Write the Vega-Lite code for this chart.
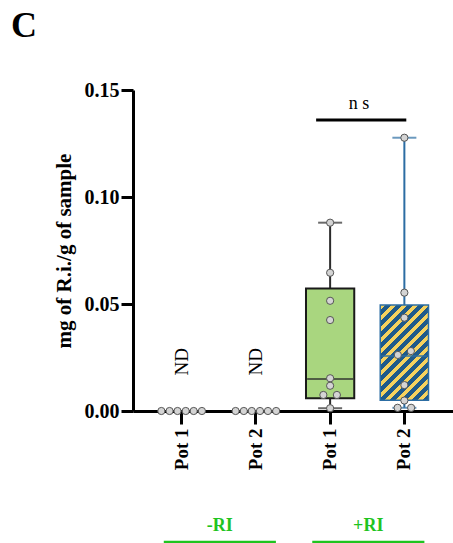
{
  "$schema": "https://vega.github.io/schema/vega-lite/v6.json",
  "width": 320,
  "height": 321,
  "autosize": {"type": "none"},
  "padding": {"left": 133, "top": 90, "right": 0, "bottom": 132},
  "background": "white",
  "title": {"text": "C", "anchor": "start", "frame": "group", "font": "Liberation Serif", "fontSize": 36, "fontWeight": "bold", "color": "black", "dx": -122, "offset": 7, "baseline": "alphabetic"},
  "config": {
    "view": {"stroke": null},
    "axis": {"domainColor": "black", "domainWidth": 3, "tickColor": "black", "tickWidth": 3, "grid": false, "labelFont": "Liberation Serif", "labelFontWeight": "bold", "labelColor": "black", "titleFont": "Liberation Serif", "titleFontWeight": "bold", "titleColor": "black"},
    "axisY": {"tickSize": 12, "labelPadding": 2, "labelFontSize": 20, "titleFontSize": 21, "titlePadding": 10},
    "axisX": {"tickSize": 13, "labelPadding": 4, "labelAngle": 270, "labelFontSize": 19}
  },
  "resolve": {"scale": {"xOffset": "independent"}},
  "datasets": {
    "points": [
      {"group": "-RI Pot 1", "value": 0, "jitter": -0.84},
      {"group": "-RI Pot 1", "value": 0, "jitter": -0.5},
      {"group": "-RI Pot 1", "value": 0, "jitter": -0.17},
      {"group": "-RI Pot 1", "value": 0, "jitter": 0.17},
      {"group": "-RI Pot 1", "value": 0, "jitter": 0.5},
      {"group": "-RI Pot 1", "value": 0, "jitter": 0.84},
      {"group": "-RI Pot 2", "value": 0, "jitter": -0.84},
      {"group": "-RI Pot 2", "value": 0, "jitter": -0.5},
      {"group": "-RI Pot 2", "value": 0, "jitter": -0.17},
      {"group": "-RI Pot 2", "value": 0, "jitter": 0.17},
      {"group": "-RI Pot 2", "value": 0, "jitter": 0.5},
      {"group": "-RI Pot 2", "value": 0, "jitter": 0.84},
      {"group": "+RI Pot 1", "value": 0.088, "jitter": 0},
      {"group": "+RI Pot 1", "value": 0.0646, "jitter": 0},
      {"group": "+RI Pot 1", "value": 0.0515, "jitter": 0},
      {"group": "+RI Pot 1", "value": 0.0425, "jitter": 0},
      {"group": "+RI Pot 1", "value": 0.0153, "jitter": 0},
      {"group": "+RI Pot 1", "value": 0.0118, "jitter": 0},
      {"group": "+RI Pot 1", "value": 0.0075, "jitter": -0.28},
      {"group": "+RI Pot 1", "value": 0.0075, "jitter": 0.28},
      {"group": "+RI Pot 1", "value": 0.0013, "jitter": 0},
      {"group": "+RI Pot 2", "value": 0.1277, "jitter": 0},
      {"group": "+RI Pot 2", "value": 0.0553, "jitter": 0},
      {"group": "+RI Pot 2", "value": 0.0436, "jitter": 0},
      {"group": "+RI Pot 2", "value": 0.0262, "jitter": -0.27},
      {"group": "+RI Pot 2", "value": 0.028, "jitter": 0.27},
      {"group": "+RI Pot 2", "value": 0.0121, "jitter": 0},
      {"group": "+RI Pot 2", "value": 0.0049, "jitter": 0},
      {"group": "+RI Pot 2", "value": 0.0015, "jitter": -0.28},
      {"group": "+RI Pot 2", "value": 0.0015, "jitter": 0.28}
    ],
    "boxes": [
      {"group": "+RI Pot 1", "min": 0.0013, "q1": 0.0059, "median": 0.015, "q3": 0.0573, "max": 0.088},
      {"group": "+RI Pot 2", "min": 0.0015, "q1": 0.005, "median": 0.0257, "q3": 0.0495, "max": 0.1277}
    ],
    "nd": [
      {"group": "-RI Pot 1", "v": 0.023, "label": "ND"},
      {"group": "-RI Pot 2", "v": 0.023, "label": "ND"}
    ],
    "sig": [
      {"group": "+RI Pot 1", "group2": "+RI Pot 2", "v": 0.136, "tv": 0.1435, "label": "n s"}
    ],
    "treat": [
      {"group": "-RI Pot 1", "group2": "-RI Pot 2", "v": -0.0612, "tv": -0.0537, "label": "-RI"},
      {"group": "+RI Pot 1", "group2": "+RI Pot 2", "v": -0.0612, "tv": -0.0537, "label": "+RI"}
    ]
  },
  "layer": [
    {
      "data": {"name": "boxes"},
      "mark": {"type": "rule", "strokeWidth": 2},
      "encoding": {
        "x": {"field": "group", "type": "nominal", "title": null, "sort": null,
              "scale": {"domain": ["-RI Pot 1", "-RI Pot 2", "+RI Pot 1", "+RI Pot 2"], "paddingInner": 0.35, "paddingOuter": 0.33},
              "axis": {"labelExpr": "slice(datum.value, 4)"}},
        "y": {"field": "min", "type": "quantitative", "title": "mg of R.i./g of sample",
              "scale": {"domain": [0, 0.15], "nice": false},
              "axis": {"values": [0, 0.05, 0.1, 0.15], "format": ".2f"}},
        "y2": {"field": "max"},
        "color": {"field": "group", "type": "nominal", "scale": {"domain": ["+RI Pot 1", "+RI Pot 2"], "range": ["#2b2b2b", "#2c6da3"]}, "legend": null}
      }
    },
    {
      "data": {"name": "boxes"},
      "transform": [{"filter": "datum.group == '+RI Pot 1'"}],
      "mark": {"type": "bar", "fill": "#a9d67f", "stroke": "#1a1a1a", "strokeWidth": 2},
      "encoding": {
        "x": {"field": "group", "type": "nominal", "title": null},
        "y": {"field": "q1", "type": "quantitative", "title": "mg of R.i./g of sample"},
        "y2": {"field": "q3"}
      }
    },
    {
      "data": {"name": "boxes"},
      "transform": [{"filter": "datum.group == '+RI Pot 2'"}],
      "mark": {"type": "bar", "stroke": "#2c6da3", "strokeWidth": 1.5,
        "fill": {"gradient": "linear", "x1": 0, "y1": 0, "x2": 0.607, "y2": 1.199, "stops": [
          {"offset": 0, "color": "#f6d25e"}, {"offset": 0.0384, "color": "#f6d25e"},
          {"offset": 0.0384, "color": "#1f5a8a"}, {"offset": 0.0767, "color": "#1f5a8a"},
          {"offset": 0.0767, "color": "#f6d25e"}, {"offset": 0.1151, "color": "#f6d25e"},
          {"offset": 0.1151, "color": "#1f5a8a"}, {"offset": 0.1534, "color": "#1f5a8a"},
          {"offset": 0.1534, "color": "#f6d25e"}, {"offset": 0.1918, "color": "#f6d25e"},
          {"offset": 0.1918, "color": "#1f5a8a"}, {"offset": 0.2301, "color": "#1f5a8a"},
          {"offset": 0.2301, "color": "#f6d25e"}, {"offset": 0.2685, "color": "#f6d25e"},
          {"offset": 0.2685, "color": "#1f5a8a"}, {"offset": 0.3068, "color": "#1f5a8a"},
          {"offset": 0.3068, "color": "#f6d25e"}, {"offset": 0.3452, "color": "#f6d25e"},
          {"offset": 0.3452, "color": "#1f5a8a"}, {"offset": 0.3835, "color": "#1f5a8a"},
          {"offset": 0.3835, "color": "#f6d25e"}, {"offset": 0.4219, "color": "#f6d25e"},
          {"offset": 0.4219, "color": "#1f5a8a"}, {"offset": 0.4602, "color": "#1f5a8a"},
          {"offset": 0.4602, "color": "#f6d25e"}, {"offset": 0.4986, "color": "#f6d25e"},
          {"offset": 0.4986, "color": "#1f5a8a"}, {"offset": 0.5369, "color": "#1f5a8a"},
          {"offset": 0.5369, "color": "#f6d25e"}, {"offset": 0.5753, "color": "#f6d25e"},
          {"offset": 0.5753, "color": "#1f5a8a"}, {"offset": 0.6136, "color": "#1f5a8a"},
          {"offset": 0.6136, "color": "#f6d25e"}, {"offset": 0.652, "color": "#f6d25e"},
          {"offset": 0.652, "color": "#1f5a8a"}, {"offset": 0.6903, "color": "#1f5a8a"},
          {"offset": 0.6903, "color": "#f6d25e"}, {"offset": 0.7287, "color": "#f6d25e"},
          {"offset": 0.7287, "color": "#1f5a8a"}, {"offset": 0.767, "color": "#1f5a8a"},
          {"offset": 0.767, "color": "#f6d25e"}, {"offset": 0.8054, "color": "#f6d25e"},
          {"offset": 0.8054, "color": "#1f5a8a"}, {"offset": 0.8437, "color": "#1f5a8a"},
          {"offset": 0.8437, "color": "#f6d25e"}, {"offset": 0.8821, "color": "#f6d25e"},
          {"offset": 0.8821, "color": "#1f5a8a"}, {"offset": 0.9204, "color": "#1f5a8a"},
          {"offset": 0.9204, "color": "#f6d25e"}, {"offset": 0.9588, "color": "#f6d25e"},
          {"offset": 0.9588, "color": "#1f5a8a"}, {"offset": 0.9971, "color": "#1f5a8a"},
          {"offset": 0.9971, "color": "#f6d25e"}, {"offset": 1, "color": "#f6d25e"}
        ]}},
      "encoding": {
        "x": {"field": "group", "type": "nominal", "title": null},
        "y": {"field": "q1", "type": "quantitative", "title": "mg of R.i./g of sample"},
        "y2": {"field": "q3"}
      }
    },
    {
      "data": {"name": "boxes"},
      "mark": {"type": "tick", "size": 46, "thickness": 2},
      "encoding": {
        "x": {"field": "group", "type": "nominal", "title": null},
        "y": {"field": "median", "type": "quantitative", "title": "mg of R.i./g of sample"},
        "color": {"field": "group", "type": "nominal", "legend": null}
      }
    },
    {
      "data": {"name": "boxes"},
      "transform": [{"fold": ["min", "max"], "as": ["stat", "sv"]}],
      "mark": {"type": "tick", "size": 24, "thickness": 2},
      "encoding": {
        "x": {"field": "group", "type": "nominal", "title": null},
        "y": {"field": "sv", "type": "quantitative", "title": "mg of R.i./g of sample"},
        "color": {"field": "group", "type": "nominal", "legend": null}
      }
    },
    {
      "data": {"name": "points"},
      "mark": {"type": "circle", "size": 52, "fill": "#d4d4d4", "stroke": "#555555", "strokeWidth": 1, "opacity": 1},
      "encoding": {
        "x": {"field": "group", "type": "nominal", "title": null},
        "xOffset": {"field": "jitter", "type": "quantitative", "scale": {"domain": [-1, 1]}},
        "y": {"field": "value", "type": "quantitative", "title": "mg of R.i./g of sample"}
      }
    },
    {
      "data": {"name": "nd"},
      "mark": {"type": "text", "angle": 270, "font": "Liberation Serif", "fontSize": 19, "align": "center", "baseline": "middle", "color": "black"},
      "encoding": {
        "x": {"field": "group", "type": "nominal", "title": null},
        "y": {"field": "v", "type": "quantitative", "title": "mg of R.i./g of sample"},
        "text": {"field": "label"}
      }
    },
    {
      "data": {"name": "sig"},
      "mark": {"type": "rule", "strokeWidth": 3, "color": "black"},
      "encoding": {
        "x": {"field": "group", "type": "nominal", "title": null, "bandPosition": 0.21},
        "x2": {"field": "group2", "bandPosition": 0.54},
        "y": {"field": "v", "type": "quantitative", "title": "mg of R.i./g of sample"}
      }
    },
    {
      "data": {"name": "sig"},
      "mark": {"type": "text", "font": "Liberation Serif", "fontSize": 18, "align": "center", "baseline": "middle", "color": "black"},
      "encoding": {
        "x": {"field": "group", "type": "nominal", "title": null, "bandPosition": 1.1},
        "y": {"field": "tv", "type": "quantitative", "title": "mg of R.i./g of sample"},
        "text": {"field": "label"}
      }
    },
    {
      "data": {"name": "treat"},
      "mark": {"type": "rule", "strokeWidth": 2.5, "color": "#1fc41f"},
      "encoding": {
        "x": {"field": "group", "type": "nominal", "title": null, "bandPosition": 0.13},
        "x2": {"field": "group2", "bandPosition": 0.915},
        "y": {"field": "v", "type": "quantitative", "title": "mg of R.i./g of sample"}
      }
    },
    {
      "data": {"name": "treat"},
      "mark": {"type": "text", "font": "Liberation Serif", "fontSize": 18, "fontWeight": "bold", "align": "center", "baseline": "middle", "color": "#1fc41f"},
      "encoding": {
        "x": {"field": "group", "type": "nominal", "title": null, "bandPosition": 1.29},
        "y": {"field": "tv", "type": "quantitative", "title": "mg of R.i./g of sample"},
        "text": {"field": "label"}
      }
    }
  ]
}
